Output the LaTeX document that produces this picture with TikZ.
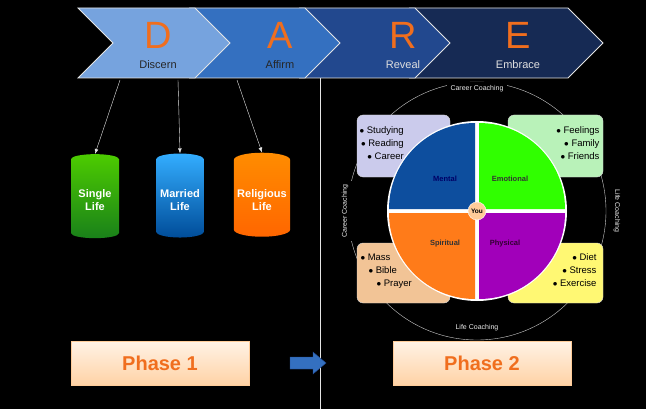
\documentclass[tikz,border=0pt]{standalone}
\usepackage{fontspec}
\setmainfont{Liberation Sans}
\usetikzlibrary{shapes.geometric,arrows.meta}
\definecolor{dA}{RGB}{118,163,222}
\definecolor{dB}{RGB}{52,112,192}
\definecolor{dC}{RGB}{34,72,142}
\definecolor{dD}{RGB}{22,42,84}
\definecolor{ltr}{RGB}{240,110,30}
\tikzset{
chevron/.style = {draw=white!80!gray, thick},
letter/.style = {text=ltr, font=\fontsize{38}{38}\selectfont},
stage/.style = {font=\fontsize{11}{11}\selectfont, text=black!85},
cyl/.style = {cylinder, shape border rotate=90, aspect=0.25, minimum width=48pt,
    minimum height=84pt, align=center, text=white, font=\bfseries\fontsize{11}{13}\selectfont},
phase/.style = {minimum width=178pt, minimum height=44pt, top color=white!90!orange,
    bottom color=orange!35, draw=orange!40, text=ltr, font=\bfseries\fontsize{20}{20}\selectfont},
lst/.style = {font=\fontsize{9.5}{13}\selectfont, align=right},
coach/.style = {font=\fontsize{7}{7}\selectfont, text=white!85!gray},
area/.style = {rounded corners=6pt, draw=white!70!gray},
qlab/.style = {font=\bfseries\fontsize{7.5}{7.5}\selectfont}
}
\begin{document}
\begin{tikzpicture}[x=1pt,y=-1pt]
    \fill[black] (0,0) rectangle (646,409);
    % DARE chevrons
    \draw[chevron, fill=dD] (410,8) -- (568,8) -- (603,43) -- (568,78) -- (410,78) -- (445,43) -- cycle;
    \draw[chevron, fill=dC] (300,8) -- (415,8) -- (450,43) -- (415,78) -- (300,78) -- (335,43) -- cycle;
    \draw[chevron, fill=dB] (190,8) -- (305,8) -- (340,43) -- (305,78) -- (190,78) -- (225,43) -- cycle;
    \draw[chevron, fill=dA] (78,8) -- (195,8) -- (230,43) -- (195,78) -- (78,78) -- (113,43) -- cycle;
    \node[letter] (D) at (158,35) {D};
    \node[letter] (A) at (280,35) {A};
    \node[letter] (R) at (403,35) {R};
    \node[letter] (E) at (518,35) {E};
    \node[stage] (discern) at (158,65) {Discern};
    \node[stage] (affirm) at (280,65) {Affirm};
    \node[stage, text=white!75!gray] (reveal) at (403,65) {Reveal};
    \node[stage, text=white!75!gray] (embrace) at (518,65) {Embrace};
    \draw[white!80!gray] (320,78) -- (320,409);
    % life choices
    \node[cyl, top color=green!50!lime!80!black, bottom color=green!45!black!90] (single) at (95,200) {Single\\Life};
    \node[cyl, top color=cyan!60!blue!80, bottom color=cyan!50!blue!60!black] (married) at (180,200) {Married\\Life};
    \node[cyl, top color=orange!90!yellow, bottom color=orange!80!red] (religious) at (262,200) {Religious\\Life};
    \coordinate (s1) at (120,80);
    \coordinate (s2) at (178,80);
    \coordinate (s3) at (237,80);
    \draw[-{Latex[length=5pt]}, white!80!gray] (s1) -- (single.north);
    \draw[-{Latex[length=5pt]}, white!80!gray] (s2) -- (married.north);
    \draw[-{Latex[length=5pt]}, white!80!gray] (s3) -- (religious.north);
    % phases
    \node[phase] (p1) at (160,363) {Phase 1};
    \node[phase] (p2) at (482,363) {Phase 2};
    \draw[fill=dB, draw=dC] (290,357) -- (313,357) -- (313,352) -- (326,363) -- (313,374) -- (313,369) -- (290,369) -- cycle;
    % wellness wheel
    \draw[white!60!gray] (477,211) circle (129);
    \node[coach, fill=black] (cc1) at (477,89) {Career Coaching};
    \node[coach, fill=black] (lc1) at (477,328) {Life Coaching};
    \node[coach, fill=black, rotate=90] (cc2) at (345,211) {Career Coaching};
    \node[coach, fill=black, rotate=-90] (lc2) at (617,211) {Life Coaching};
    \draw[area, fill=blue!15!white!85!gray] (357,115) rectangle (450,177);
    \draw[area, fill=green!25!white!90!gray] (508,115) rectangle (603,177);
    \draw[area, fill=orange!40!white!90!gray] (357,243) rectangle (450,303);
    \draw[area, fill=yellow!55!white] (508,243) rectangle (603,303);
    \node[lst, anchor=north west] (l1) at (356,123) {$\bullet$ Studying\\$\bullet$ Reading\hspace{1pt}\\$\bullet$ Career\hspace{9pt}};
    \node[lst, anchor=north east] (l2) at (603,123) {$\bullet$ Feelings\hspace{14pt}\\$\bullet$ Family\hspace{6pt}\\$\bullet$ Friends};
    \node[lst, anchor=north west, align=left] (l3) at (357,250) {$\bullet$ Mass\\\hspace{8pt}$\bullet$ Bible\\\hspace{16pt}$\bullet$ Prayer};
    \node[lst, anchor=north east] (l4) at (600,250) {$\bullet$ Diet\hspace{2pt}\\$\bullet$ Stress\\$\bullet$ Exercise\hspace{8pt}};
    \fill[white] (477,211) circle (90);
    \fill[blue!55!cyan!60!black!95] (475,209) -- (475,123) arc (270:180:86) -- cycle;
    \fill[green!75!lime] (479,209) -- (565,209) arc (0:-90:86) -- cycle;
    \fill[orange!85!red!90] (475,213) -- (389,213) arc (180:90:86) -- cycle;
    \fill[violet!60!magenta!90!blue] (479,213) -- (479,299) arc (90:0:86) -- cycle;
    \node[qlab, text=blue!40!black] (mental) at (445,179) {Mental};
    \node[qlab, text=black!80] (emot) at (510,179) {Emotional};
    \node[qlab, text=black!80] (spir) at (445,244) {Spiritual};
    \node[qlab, text=violet!40!black] (phys) at (505,244) {Physical};
    \node[circle, draw=white, fill=orange!40, minimum size=18pt, inner sep=0pt, qlab, font=\bfseries\fontsize{6.5}{6.5}\selectfont] (you) at (477,211) {You};
\end{tikzpicture}
\end{document}
